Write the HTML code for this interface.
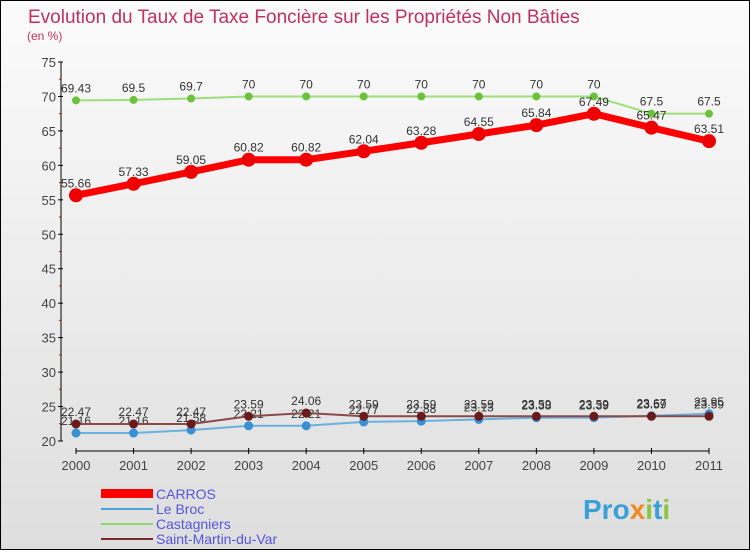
<!DOCTYPE html>
<html><head><meta charset="utf-8"><style>
body{margin:0;width:750px;height:550px;overflow:hidden;font-family:"Liberation Sans",sans-serif}
#c{position:absolute;left:0;top:0;width:748px;height:548px;border:1px solid #000;background:linear-gradient(#fbfbfb,#dedede)}
</style></head><body>
<div id="c">
<svg width="750" height="550">
<text x="27" y="22" font-size="19" fill="#c0315e">Evolution du Taux de Taxe Foncière sur les Propriétés Non Bâties</text>
<text x="26" y="39" font-size="12" fill="#c0315e">(en %)</text>
<g id="axes"></g><g id="series"></g>
<g font-size="14">
<rect x="100" y="488" width="52" height="9" fill="#f00"/>
<text x="155" y="498" fill="#5555dd">CARROS</text>
<rect x="100" y="507" width="52" height="2" fill="#4a9fd8"/>
<text x="155" y="513" fill="#5555dd">Le Broc</text>
<rect x="100" y="522" width="52" height="2" fill="#8fd86a"/>
<text x="155" y="528" fill="#5555dd">Castagniers</text>
<rect x="100" y="537" width="52" height="2" fill="#7a2a2a"/>
<text x="155" y="543" fill="#5555dd">Saint-Martin-du-Var</text>
</g>
<text x="582" y="518" font-size="28" font-weight="bold" fill="#3aa0d8">Pro<tspan fill="#f08a20">x</tspan><tspan fill="#8cc63f">i</tspan>t<tspan fill="#8cc63f">i</tspan></text>
</svg></div>
<script>
const years=[2000,2001,2002,2003,2004,2005,2006,2007,2008,2009,2010,2011];
const yTicks=[20,25,30,35,40,45,50,55,60,65,70,75];
const carros=[55.66,57.33,59.05,60.82,60.82,62.04,63.28,64.55,65.84,67.49,65.47,63.51];
const leBroc=[21.16,21.16,21.58,22.21,22.21,22.77,22.88,23.13,23.38,23.39,23.67,23.95];
const castagniers=[69.43,69.5,69.7,70,70,70,70,70,70,70,67.5,67.5];
const smdv=[22.47,22.47,22.47,23.59,24.06,23.59,23.59,23.59,23.59,23.59,23.59,23.59];
const NS='http://www.w3.org/2000/svg';
const X=i=>75+i*(708-75)/(years.length-1);
const Y=v=>440-(v-20)*(440-61)/55;
function mk(t,a,p){const e=document.createElementNS(NS,t);for(const k in a)e.setAttribute(k,a[k]);p.appendChild(e);return e;}
const ax=document.getElementById('axes');
mk('line',{x1:60,y1:61,x2:60,y2:440,stroke:'#000'},ax);
mk('line',{x1:75,y1:450,x2:708,y2:450,stroke:'#000'},ax);
yTicks.forEach(v=>{
 mk('line',{x1:57,y1:Y(v),x2:62,y2:Y(v),stroke:'#000'},ax);
 if(v<75) mk('line',{x1:58,y1:Y(v+2.5),x2:60,y2:Y(v+2.5),stroke:'#d00'},ax);
 const t=mk('text',{x:55,y:Y(v)+5,'font-size':13,'text-anchor':'end',fill:'#444'},ax);
 t.textContent=v;
 
 
});
years.forEach((y,i)=>{
 mk('line',{x1:X(i),y1:447,x2:X(i),y2:453,stroke:'#000'},ax);
 const t=mk('text',{x:X(i),y:469,'font-size':13,'text-anchor':'middle',fill:'#444'},ax);
 t.textContent=y;
 
 
});
const sg=document.getElementById('series');
function series(vals,name,col,dot,w,r){
 const g=mk('g',{},sg);
 
 
 const p=mk('polyline',{points:vals.map((v,i)=>X(i)+','+Y(v)).join(' '),fill:'none',stroke:col,'stroke-width':w},g);
 
 
 vals.forEach((v,i)=>{
  const c=mk('circle',{cx:X(i),cy:Y(v),r:r,fill:dot},g);
  
  
  const t=mk('text',{x:X(i),y:Y(v)-8,'font-size':12,'text-anchor':'middle',fill:'#333'},g);
  t.textContent=v;
  
  
 });
}
series(castagniers,'castagniers','#9de07a','#6cc23a',2,4);
series(leBroc,'le-broc','#6ab0e0','#3a90d0',2,4.5);
series(smdv,'saint-martin-du-var','#8a4a4a','#6a1a1a',2,4.5);
series(carros,'carros','#f00','#e00',7,7);
</script>
</body></html>
